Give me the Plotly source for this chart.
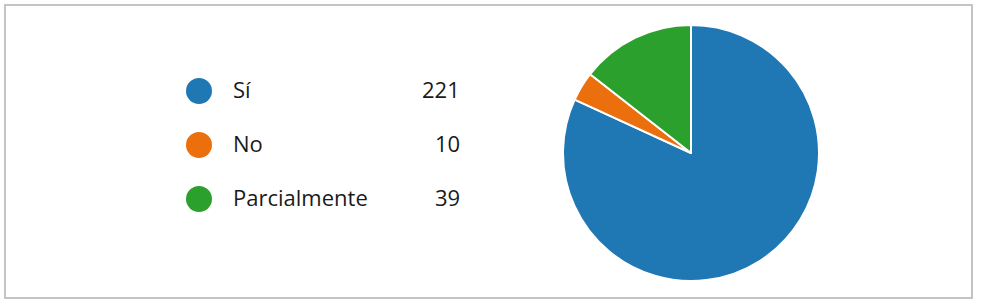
import plotly.graph_objects as go

categories = ["Sí", "No", "Parcialmente"]
values = [221, 10, 39]
colors = ["#1f77b4", "#eb6f0c", "#2ca02c"]

W, H = 981, 303
fig = go.Figure()

# Pie
fig.add_trace(go.Pie(
    labels=categories, values=values, sort=False, direction="clockwise", rotation=0,
    marker=dict(colors=colors, line=dict(color="white", width=2)),
    textinfo="none", hoverinfo="label+value", showlegend=False,
    domain=dict(x=[563/W, 819/W], y=[(H-281)/H, (H-25)/H]),
))

# Legend markers
fig.add_trace(go.Scatter(
    x=[199]*len(categories), y=categories, mode="markers",
    marker=dict(size=26, color=colors), showlegend=False, hoverinfo="skip",
    xaxis="x", yaxis="y",
))

font = dict(family="Open Sans, sans-serif", size=22, color="#1a1a1a")
annotations = []
for c, v in zip(categories, values):
    annotations.append(dict(x=231, y=c, xref="x", yref="y", text=c, showarrow=False,
                            xanchor="left", yanchor="middle", yshift=2, font=font))
    annotations.append(dict(x=462, y=c, xref="x", yref="y", text=str(v), showarrow=False,
                            xanchor="right", yanchor="middle", yshift=2, font=font))

fig.update_layout(
    width=W, height=H, margin=dict(l=0, r=0, t=0, b=0),
    paper_bgcolor="white", plot_bgcolor="rgba(0,0,0,0)",
    xaxis=dict(range=[0, W], domain=[0, 1], visible=False, fixedrange=True),
    yaxis=dict(type="category", categoryarray=categories, range=[3.926, -1.685],
               domain=[0, 1], visible=False, fixedrange=True),
    annotations=annotations,
    shapes=[dict(type="rect", xref="paper", yref="paper",
                 x0=5/W, x1=972/W, y0=(H-298)/H, y1=(H-5)/H,
                 line=dict(color="#c4c4c4", width=2), fillcolor="rgba(0,0,0,0)")],
)

fig.write_html("out.html", config={"displayModeBar": False},
               post_script="document.body.style.margin='0';document.body.style.overflow='hidden';")
